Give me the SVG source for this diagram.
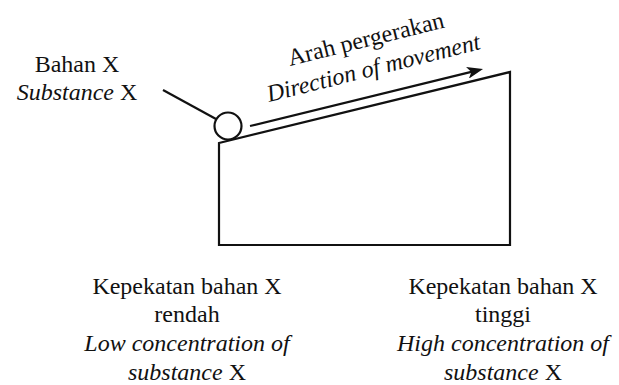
<svg xmlns="http://www.w3.org/2000/svg" width="619" height="385" viewBox="0 0 619 385">
<style>
text{font-family:'Liberation Serif','Times New Roman',Tinos,'DejaVu Serif',serif;font-size:24px;fill:#111}
.i{font-style:italic}
.m{text-anchor:middle}
.s{fill:none;stroke:#111;stroke-width:2.2}
</style>
<defs>
<marker id="ah" viewBox="0 0 16 12" refX="6" refY="6" markerWidth="16" markerHeight="12" markerUnits="userSpaceOnUse" orient="auto">
<path d="M0,0 L16,6 L0,12 L4,6 Z" fill="#111"/>
</marker>
</defs>
<rect width="619" height="385" fill="#fff"/>
<g id="slope-block">
<polygon class="s" points="219,143 510,72 510,245 219,245"/>
</g>
<g id="substance-x">
<circle class="s" cx="228" cy="126" r="13.5" fill="#fff"/>
</g>
<g id="substance-label">
<text class="m" x="77" y="72">Bahan X</text>
<text class="m" x="77" y="100"><tspan class="i">Substance</tspan> X</text>
</g>
<g id="movement-label">
<text transform="translate(290,66) rotate(-14)">Arah pergerakan</text>
<text class="i" transform="translate(269,102) rotate(-14)">Direction of movement</text>
</g>
<g id="low-label">
<text class="m" x="187" y="294">Kepekatan bahan X</text>
<text class="m" x="187" y="322">rendah</text>
<text class="m i" x="187" y="351">Low concentration of</text>
<text class="m" x="187" y="380"><tspan class="i">substance</tspan> X</text>
</g>
<g id="high-label">
<text class="m" x="503" y="294">Kepekatan bahan X</text>
<text class="m" x="503" y="322">tinggi</text>
<text class="m i" x="503" y="351">High concentration of</text>
<text class="m" x="503" y="380"><tspan class="i">substance</tspan> X</text>
</g>
<g id="connectors">
<line class="s" x1="163" y1="90" x2="216" y2="119"/>
<line class="s" x1="250" y1="126" x2="473.3" y2="71.4" marker-end="url(#ah)"/>
</g>
</svg>
